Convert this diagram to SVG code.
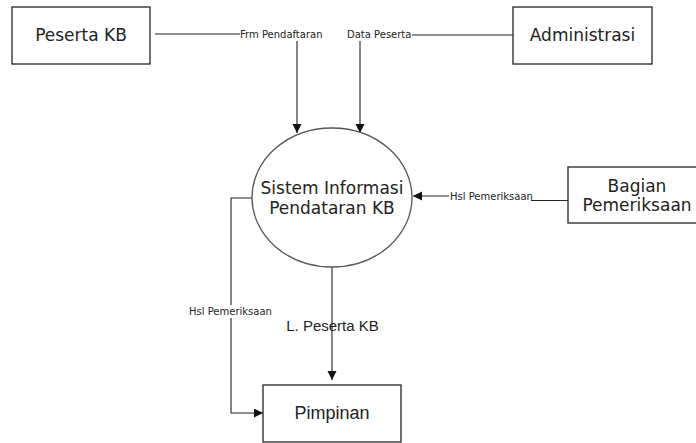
<svg xmlns="http://www.w3.org/2000/svg" width="696" height="443" viewBox="0 0 696 443">
<defs>
<style>
.box{fill:#fff;stroke:#333;stroke-width:1.4}
.proc{fill:#fff;stroke:#555;stroke-width:1.3}
.nt{font-family:"DejaVu Sans",Verdana,sans-serif;font-size:17px;fill:#222;text-anchor:middle}
.at{font-family:"Liberation Sans",Arial,sans-serif;fill:#222;text-anchor:middle}
.ln{fill:none;stroke:#222;stroke-width:1.1}
.lb{font-family:"DejaVu Sans",Verdana,sans-serif;font-size:10px;fill:#222}
</style>
<marker id="ah" markerUnits="userSpaceOnUse" markerWidth="10" markerHeight="10" refX="9" refY="4.5" orient="auto">
<path d="M0,0 L9,4.5 L0,9 z" fill="#111"/>
</marker>
</defs>
<rect width="696" height="443" fill="#fff"/>
<g id="connectors">
<path class="ln" d="M155,34 H297 V133" marker-end="url(#ah)"/>
<rect x="240" y="28" width="86" height="13" fill="#fff"/>
<text class="lb" x="240" y="38">Frm Pendaftaran</text>
<path class="ln" d="M513,35 H360 V133" marker-end="url(#ah)"/>
<rect x="346" y="28" width="66" height="13" fill="#fff"/>
<text class="lb" x="347" y="38">Data Peserta</text>
<path class="ln" d="M568,200.5 H490 M450,196 H413" marker-end="url(#ah)"/>
<path class="ln" d="M490,200.5 H450"/>
<rect x="449" y="190" width="84" height="12" fill="#fff"/>
<text class="lb" x="450" y="200">Hsl Pemeriksaan</text>
<path class="ln" d="M531,200.5 H533"/>
<path class="ln" d="M252,198 H231 V413 H263" marker-end="url(#ah)"/>
<rect x="188" y="305" width="86" height="13" fill="#fff"/>
<text class="lb" x="189" y="315">Hsl Pemeriksaan</text>
<path class="ln" d="M332,267 V380" marker-end="url(#ah)"/>
<text class="at" x="332.5" y="331" font-size="15">L. Peserta KB</text>
</g>
<g id="peserta-kb">
<rect class="box" x="12" y="7" width="138" height="57"/>
<text class="nt" x="81" y="41">Peserta KB</text>
</g>
<g id="administrasi">
<rect class="box" x="513" y="7" width="139" height="57"/>
<text class="nt" x="582.5" y="41">Administrasi</text>
</g>
<g id="sistem">
<ellipse class="proc" cx="332" cy="197.5" rx="80" ry="69.5"/>
<text class="nt" x="332" y="194">Sistem Informasi</text>
<text class="nt" x="332" y="214">Pendataran KB</text>
</g>
<g id="bagian-pemeriksaan">
<rect class="box" x="568" y="167" width="138" height="56"/>
<text class="nt" x="637" y="192">Bagian</text>
<text class="nt" x="637" y="211">Pemeriksaan</text>
</g>
<g id="pimpinan">
<rect class="box" x="263" y="385" width="138" height="57"/>
<text class="at" x="332" y="419" font-size="18">Pimpinan</text>
</g>
</svg>
